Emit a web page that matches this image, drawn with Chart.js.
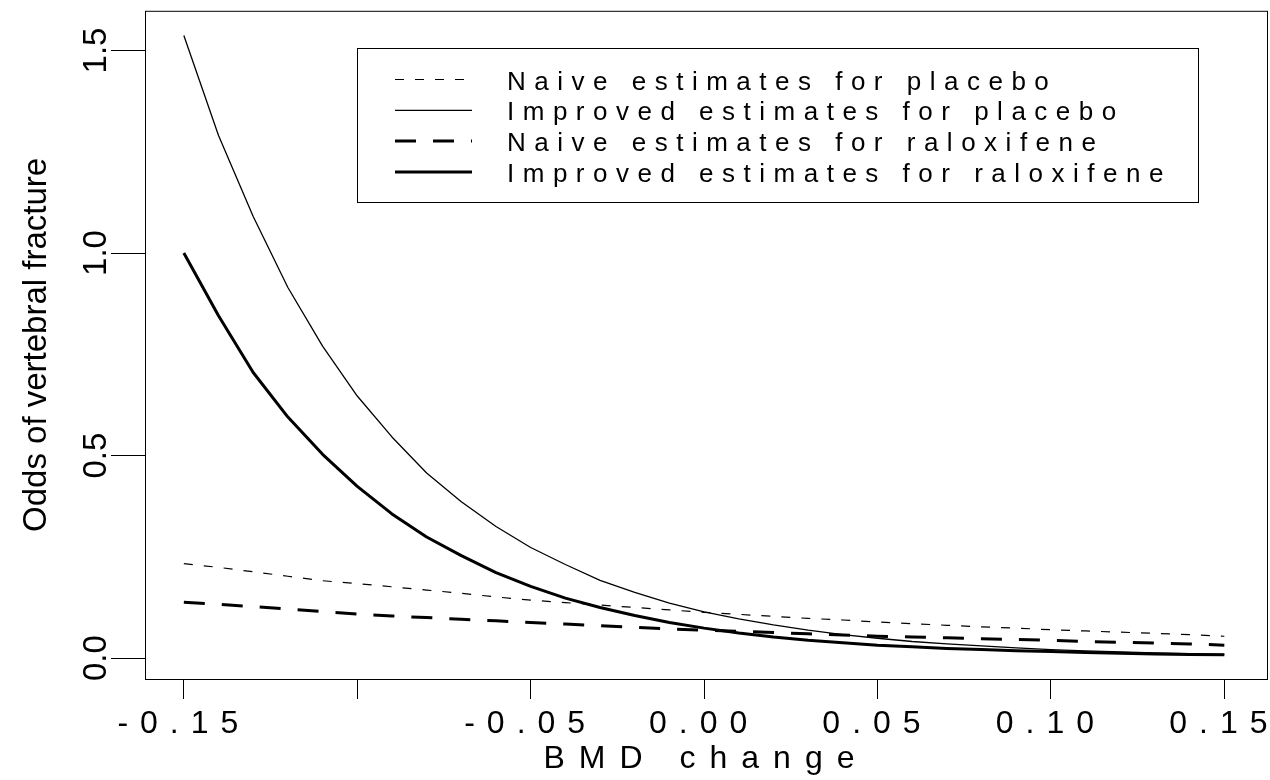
<!DOCTYPE html>
<html>
<head>
<meta charset="utf-8">
<script src="https://cdn.jsdelivr.net/npm/chart.js@4/dist/chart.umd.min.js"></script>
<style>
  html, body { margin: 0; padding: 0; background: #fff; }
  #wrap { width: 1270px; height: 780px; }
</style>
</head>
<body>
<div id="wrap"><canvas id="c" width="1270" height="780"></canvas></div>
<script>
// ---- data ----
const bmdChange = [-0.15, -0.14, -0.13, -0.12, -0.11, -0.10, -0.09, -0.08, -0.07, -0.06,
                   -0.05, -0.04, -0.03, -0.02, -0.01, 0.00, 0.01, 0.02, 0.03, 0.04,
                   0.05, 0.06, 0.07, 0.08, 0.09, 0.10, 0.11, 0.12, 0.13, 0.14, 0.15];

const naivePlacebo = [0.233, 0.224, 0.213, 0.202, 0.191, 0.184, 0.176, 0.168, 0.160, 0.151,
                      0.143, 0.137, 0.131, 0.125, 0.119, 0.113, 0.108, 0.103, 0.098, 0.094,
                      0.089, 0.085, 0.081, 0.077, 0.074, 0.070, 0.067, 0.064, 0.061, 0.058, 0.054];

const improvedPlacebo = [1.537, 1.290, 1.090, 0.915, 0.770, 0.647, 0.546, 0.457, 0.386, 0.325,
                         0.273, 0.231, 0.192, 0.162, 0.136, 0.114, 0.097, 0.082, 0.069, 0.058,
                         0.049, 0.041, 0.035, 0.030, 0.025, 0.021, 0.018, 0.015, 0.013, 0.011, 0.009];

const naiveRaloxifene = [0.138, 0.133, 0.127, 0.121, 0.115, 0.109, 0.104, 0.100, 0.096, 0.092,
                         0.088, 0.084, 0.080, 0.076, 0.072, 0.069, 0.066, 0.063, 0.060, 0.057,
                         0.054, 0.052, 0.050, 0.048, 0.046, 0.044, 0.041, 0.039, 0.037, 0.035, 0.032];

const improvedRaloxifene = [1.000, 0.845, 0.705, 0.595, 0.503, 0.424, 0.356, 0.299, 0.253, 0.211,
                            0.177, 0.148, 0.125, 0.105, 0.088, 0.074, 0.062, 0.052, 0.044, 0.038,
                            0.032, 0.028, 0.024, 0.021, 0.018, 0.016, 0.014, 0.012, 0.010, 0.009, 0.008];

const seriesLabels = ['Naive estimates for placebo', 'Improved estimates for placebo',
                      'Naive estimates for raloxifene', 'Improved estimates for raloxifene'];

const xTickValues = [-0.15, -0.10, -0.05, 0.00, 0.05, 0.10, 0.15];
const xTickLabels = ['-0.15', '', '-0.05', '0.00', '0.05', '0.10', '0.15'];
const yTickValues = [0.0, 0.5, 1.0, 1.5];
const yTickLabels = ['0.0', '0.5', '1.0', '1.5'];

const xTitle = 'BMD change';
const yTitle = 'Odds of vertebral fracture';

// ---- styles ----
const FONT = '"Liberation Sans", Arial, Helvetica, sans-serif';
const styles = [
  { borderWidth: 1.2, borderDash: [9, 11] },
  { borderWidth: 1.3, borderDash: [] },
  { borderWidth: 3, borderDash: [21, 17] },
  { borderWidth: 3, borderDash: [] }
];
const seriesValues = [naivePlacebo, improvedPlacebo, naiveRaloxifene, improvedRaloxifene];

const datasets = seriesValues.map((vals, i) => ({
  label: seriesLabels[i],
  data: bmdChange.map((x, j) => ({ x: x, y: vals[j] })),
  borderColor: '#000',
  backgroundColor: '#000',
  borderWidth: styles[i].borderWidth,
  borderDash: styles[i].borderDash,
  borderCapStyle: 'butt',
  borderJoinStyle: 'round',
  pointRadius: 0,
  tension: 0,
  fill: false
}));

// letter spacing for the x axis texts (as in the reference)
const spacingPlugin = {
  id: 'spacing',
  beforeDraw(chart) {
    const s = chart.scales.x;
    if (s && !s._spWrapped) {
      s._spWrapped = true;
      const dl = s.drawLabels, dt = s.drawTitle;
      s.drawLabels = function (a) { const c = this.ctx; c.save(); c.letterSpacing = '12px'; dl.call(this, a); c.restore(); };
      s.drawTitle = function (a) { const c = this.ctx; c.save(); c.letterSpacing = '14px'; dt.call(this, a); c.restore(); };
    }
  }
};

// plot frame + boxed legend
const framePlugin = {
  id: 'frame',
  afterDraw(chart) {
    const ctx = chart.ctx;
    const a = chart.chartArea;
    ctx.save();
    ctx.strokeStyle = '#000';
    ctx.lineWidth = 1;
    ctx.setLineDash([]);
    ctx.strokeRect(a.left + 0.5, a.top + 0.5, a.right - a.left, a.bottom - a.top);

    // legend box
    ctx.strokeRect(357.5, 48.5, 841, 154);
    chart.data.datasets.forEach((ds, i) => {
      const y = 79.5 + i * 30.8;
      ctx.beginPath();
      ctx.lineWidth = ds.borderWidth;
      ctx.lineCap = 'butt';
      ctx.setLineDash(ds.borderDash || []);
      ctx.moveTo(395, y);
      ctx.lineTo(472, y);
      ctx.stroke();
      ctx.setLineDash([]);
      ctx.fillStyle = '#000';
      ctx.font = '26px ' + FONT;
      ctx.letterSpacing = '8.5px';
      ctx.textAlign = 'left';
      ctx.textBaseline = 'alphabetic';
      ctx.fillText(ds.label, 507, y + 10);
      ctx.letterSpacing = '0px';
    });
    ctx.restore();
  }
};

new Chart(document.getElementById('c'), {
  type: 'line',
  data: { datasets: datasets },
  plugins: [spacingPlugin, framePlugin],
  options: {
    responsive: false,
    devicePixelRatio: 1,
    animation: false,
    layout: { padding: { top: 8, right: 3, left: 0, bottom: 0 } },
    plugins: { legend: { display: false }, tooltip: { enabled: false } },
    scales: {
      x: {
        type: 'linear',
        min: -0.1612,
        max: 0.1623,
        afterBuildTicks: (s) => { s.ticks = xTickValues.map(v => ({ value: v })); },
        afterFit: (s) => { s.height = 101; },
        grid: { display: true, drawOnChartArea: false, drawTicks: true, tickLength: 20, color: '#000', lineWidth: 1 },
        border: { display: false },
        ticks: {
          autoSkip: false,
          maxRotation: 0,
          minRotation: 0,
          padding: 6,
          color: '#000',
          font: { family: FONT, size: 32 },
          callback: (v) => { const k = xTickValues.findIndex(t => Math.abs(t - v) < 1e-9); return k >= 0 ? xTickLabels[k] : ''; }
        },
        title: { display: true, text: xTitle, color: '#000', font: { family: FONT, size: 32 }, padding: { top: 0, bottom: 2 } }
      },
      y: {
        type: 'linear',
        min: -0.0516,
        max: 1.598,
        afterBuildTicks: (s) => { s.ticks = yTickValues.map(v => ({ value: v })); },
        afterFit: (s) => { s.width = 145; },
        grid: { display: true, drawOnChartArea: false, drawTicks: true, tickLength: 34, color: '#000', lineWidth: 1 },
        border: { display: false },
        ticks: {
          autoSkip: false,
          minRotation: 90,
          maxRotation: 90,
          crossAlign: 'center',
          padding: -9,
          color: '#000',
          font: { family: FONT, size: 33 },
          callback: (v) => { const k = yTickValues.findIndex(t => Math.abs(t - v) < 1e-9); return k >= 0 ? yTickLabels[k] : ''; }
        },
        title: { display: true, text: yTitle, color: '#000', font: { family: FONT, size: 33 }, padding: { top: 17, bottom: 0 } }
      }
    }
  }
});
</script>
</body>
</html>
